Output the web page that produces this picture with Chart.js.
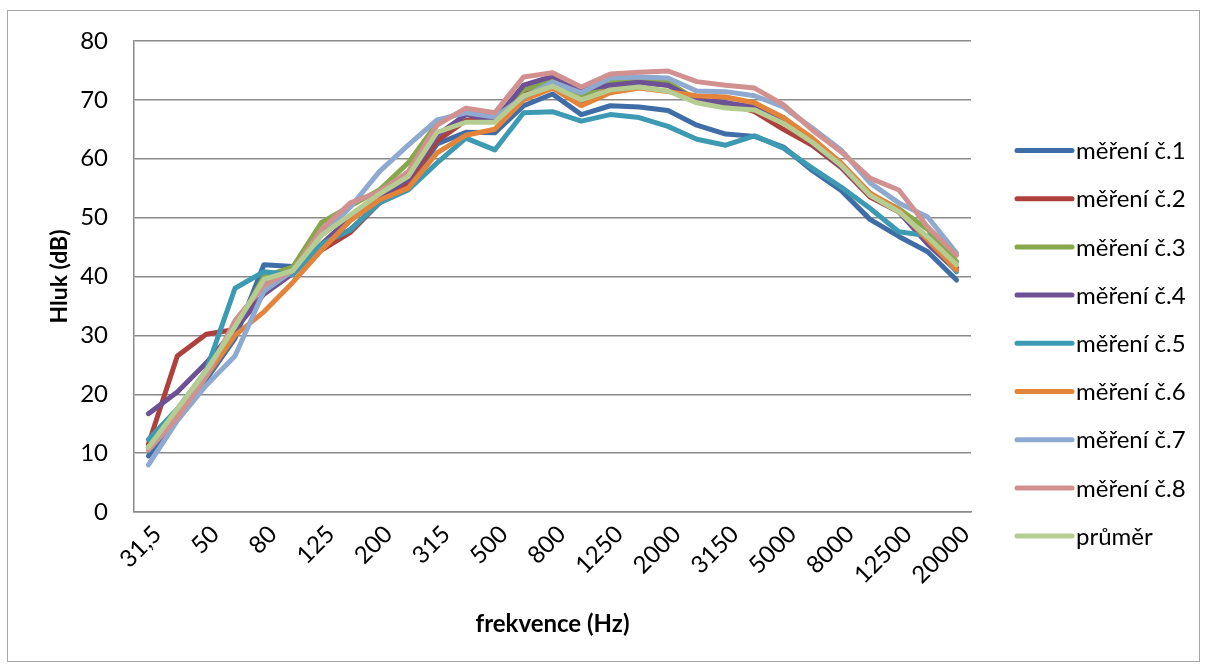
<!DOCTYPE html>
<html>
<head>
<meta charset="utf-8">
<script src="https://cdn.jsdelivr.net/npm/chart.js@4.4.0/dist/chart.umd.min.js"></script>
<style>
  html, body { margin: 0; padding: 0; background: #fff; }
  #wrap { width: 1207px; height: 668px; position: relative; }
</style>
</head>
<body>
<div id="wrap"><canvas id="graf"></canvas></div>
<script>
// tercinová pásma (Hz)
const frekvence = ['31,5', '40', '50', '63', '80', '100', '125', '160', '200', '250', '315', '400', '500', '630',
  '800', '1000', '1250', '1600', '2000', '2500', '3150', '4000', '5000', '6300', '8000', '10000', '12500', '16000', '20000'];

// naměřené hladiny hluku (dB)
const mereni1 = [9.5, 16, 22.5, 29.5, 42, 41.7, 45, 48, 52.5, 55.5, 62.5, 64.5, 64.4, 69, 71, 67.5, 69, 68.8, 68.2, 65.7, 64.2, 63.8, 62, 58, 54.6, 49.7, 46.8, 44.2, 39.4];
const mereni2 = [11.5, 26.5, 30.2, 31, 39, 41, 44.5, 47.5, 52.5, 56, 63, 66.5, 66.5, 71, 72.5, 69.5, 72, 73, 72.5, 70, 69.5, 68, 65, 62.3, 58.5, 53.5, 51, 46, 41.5];
const mereni3 = [11, 17, 24, 31, 40, 41.6, 49.2, 52, 54.7, 59.3, 66, 68.4, 67.1, 71.7, 73.3, 70.5, 73, 73.5, 73, 70, 69, 68.5, 66.5, 62.8, 59, 54, 51.5, 48, 42.5];
const mereni4 = [16.7, 20.4, 25.3, 31, 37, 40.5, 45.5, 50, 53.5, 56.5, 64, 67.5, 66.5, 72.5, 74, 71.8, 72.5, 73, 72.5, 70, 69.5, 68.8, 67, 62.7, 58.7, 53.8, 51, 45.5, 41];
const mereni5 = [12.3, 17.5, 24, 38, 40.8, 40.3, 45.5, 47.9, 52.5, 54.7, 59.3, 63.5, 61.5, 67.8, 68, 66.4, 67.5, 67, 65.5, 63.3, 62.3, 63.9, 61.8, 58.4, 55.2, 51.6, 47.6, 46.9, 40.8];
const mereni6 = [11, 16.5, 23, 30, 34, 39, 44.5, 49.5, 53, 55, 61, 64, 65, 70, 72, 69, 71.2, 72, 71.4, 70.7, 70.5, 69.5, 67, 63.5, 59.3, 54.2, 51.3, 46.2, 41.1];
const mereni7 = [8, 15.5, 21.5, 26.5, 37.5, 41, 47, 51.8, 57.8, 62.3, 66.6, 67.8, 67.1, 70.5, 73, 71.2, 73.7, 73.9, 73.7, 71.5, 71.4, 70.7, 68.8, 65.2, 61.5, 55.9, 52.5, 50.1, 44];
const mereni8 = [10.5, 16, 23, 32.5, 38.5, 41, 48, 52.5, 54.4, 57.8, 65.7, 68.6, 67.8, 73.9, 74.6, 72.2, 74.4, 74.7, 74.9, 73.1, 72.5, 72, 69.2, 64.9, 61.2, 56.7, 54.7, 48.4, 43.6];
const prumer = [11, 17.5, 24, 31.5, 39.5, 41, 47, 50.5, 54, 57, 64.5, 66.2, 66.2, 70.7, 72.3, 70, 71.7, 72.2, 71.5, 69.5, 68.6, 68.3, 66, 62.8, 58.9, 53.8, 51, 46.7, 42];

const nazvy = ['měření č.1', 'měření č.2', 'měření č.3', 'měření č.4', 'měření č.5', 'měření č.6', 'měření č.7', 'měření č.8', 'průměr'];
const rady  = [mereni1, mereni2, mereni3, mereni4, mereni5, mereni6, mereni7, mereni8, prumer];
const barvy = ['#3F6DA8', '#AE403D', '#87A84A', '#6D5195', '#3C9AB2', '#E3843A', '#8EAAD1', '#D19190', '#B5CD91'];

const PISMO = 'Lato, "Liberation Sans", sans-serif';
const SIRKA_CARY = 5;

// bílé pozadí a tenký rámeček kolem celého grafu
const ramecek = {
  id: 'ramecek',
  beforeDraw(chart) {
    const ctx = chart.ctx;
    ctx.save();
    ctx.fillStyle = '#fff';
    ctx.fillRect(0, 0, chart.width, chart.height);
    ctx.strokeStyle = '#a6a6a6';
    ctx.lineWidth = 1;
    ctx.strokeRect(7.5, 10.5, 1192, 651);
    ctx.restore();
  }
};

// legenda vpravo – čára a popisek pro každou řadu
const legendaVpravo = {
  id: 'legendaVpravo',
  afterDraw(chart) {
    const ctx = chart.ctx;
    const x0 = chart.chartArea.right + 46;
    ctx.save();
    ctx.font = '24px ' + PISMO;
    ctx.textBaseline = 'middle';
    ctx.fillStyle = '#000';
    chart.data.datasets.forEach((ds, i) => {
      const y = 150.5 + i * 48.2;
      ctx.strokeStyle = ds.borderColor;
      ctx.lineWidth = SIRKA_CARY;
      ctx.lineCap = 'round';
      ctx.beginPath();
      ctx.moveTo(x0, y);
      ctx.lineTo(x0 + 55, y);
      ctx.stroke();
      ctx.fillText(ds.label, x0 + 59, y + 1);
    });
    ctx.restore();
  }
};

const datasets = rady.map((data, i) => ({
  label: nazvy[i],
  data,
  borderColor: barvy[i],
  backgroundColor: barvy[i],
  borderWidth: SIRKA_CARY,
  borderJoinStyle: 'round',
  borderCapStyle: 'round',
  pointRadius: 0,
  tension: 0,
  fill: false,
  order: rady.length - 1 - i
}));

new Chart(document.getElementById('graf'), {
  type: 'line',
  data: { labels: frekvence, datasets },
  options: {
    responsive: true,
    maintainAspectRatio: false,
    animation: false,
    layout: { padding: { left: 44, top: 41, right: 236, bottom: 27 } },
    plugins: {
      legend: { display: false },
      tooltip: { enabled: false }
    },
    scales: {
      x: {
        offset: true,
        afterFit: s => { s.height = 129; },
        grid: { display: false, drawTicks: false },
        border: { display: true, color: '#8a8a8a', width: 1.5 },
        ticks: {
          autoSkip: false,
          maxRotation: 45,
          minRotation: 45,
          padding: 8,
          labelOffset: 9,
          color: '#000',
          font: { family: PISMO, size: 24 },
          callback: (v, i) => (i % 2 === 0 ? frekvence[i] : '')
        },
        title: {
          display: true,
          text: 'frekvence (Hz)',
          color: '#000',
          font: { family: PISMO, size: 24, weight: 'bold' },
          padding: { top: 4, bottom: 2 }
        }
      },
      y: {
        min: 0,
        max: 80,
        afterFit: s => { s.width = 90; },
        grid: { color: '#8a8a8a', lineWidth: 1.5, drawTicks: false },
        border: { display: true, color: '#8a8a8a', width: 1.5 },
        ticks: {
          stepSize: 10,
          padding: 26,
          color: '#000',
          font: { family: PISMO, size: 24 }
        },
        title: {
          display: true,
          text: 'Hluk (dB)',
          color: '#000',
          font: { family: PISMO, size: 23, weight: 'bold' },
          padding: { top: 2, bottom: 4 }
        }
      }
    }
  },
  plugins: [ramecek, legendaVpravo]
});
</script>
</body>
</html>
